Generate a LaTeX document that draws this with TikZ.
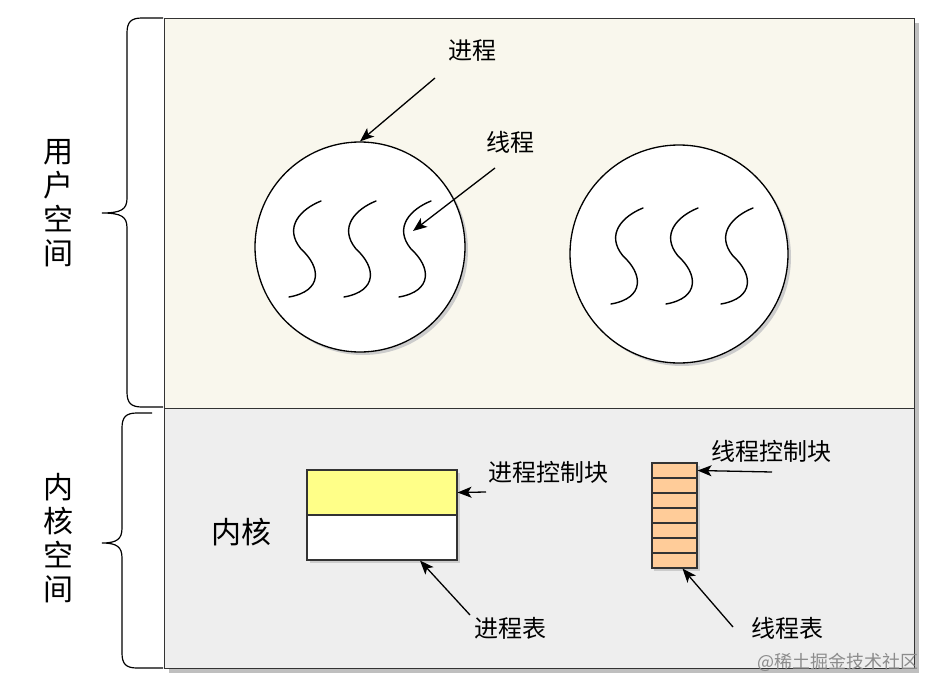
\documentclass[tikz,border=0pt]{standalone}
\usepackage{fontspec}
\setmainfont{Noto Sans CJK SC}
\usetikzlibrary{arrows.meta, shadows, calc, positioning}
\definecolor{userbg}{RGB}{249,247,237}
\definecolor{kernbg}{RGB}{238,238,238}
\definecolor{pcbyellow}{RGB}{255,255,136}
\definecolor{tcbpeach}{RGB}{255,204,153}
\definecolor{edge}{RGB}{51,51,51}

\begin{document}
\begin{tikzpicture}[x=1pt, y=-1pt,
  panel/.style={draw=edge, line width=1.2pt, minimum width=750pt, anchor=north west, inner sep=0pt,
    drop shadow={shadow xshift=4pt, shadow yshift=-4pt, fill=black!25, opacity=1}},
  ball/.style={circle, draw=black, line width=1.3pt, fill=white, minimum size=#1, inner sep=0pt,
    drop shadow={shadow xshift=3pt, shadow yshift=-3pt, fill=black!20, opacity=1}},
  thread/.style={line width=1.4pt, line cap=round},
  cell/.style={draw=edge, line width=1.1pt, inner sep=0pt},
  lbl/.style={font=\fontsize{24}{28}\selectfont, inner sep=0pt},
  sidelbl/.style={font=\fontsize{30}{34}\selectfont, align=center, inner sep=0pt},
  pointer/.style={line width=1.3pt, -{Stealth[length=14pt, width=11pt, inset=3.5pt]}}]
\useasboundingbox (0,0) rectangle (937,693);

% panels
\node[panel, fill=userbg, minimum height=390pt] (user) at (164,18) {};
\node[panel, fill=kernbg, minimum height=260pt] (kern) at (164,408) {};

% braces
\draw[line width=1.2pt] (163,18) -- (142,18) .. controls (131,18) and (127,22) .. (127,33)
  -- (127,198) .. controls (127,209) and (122,213) .. (102,213)
  .. controls (122,213) and (127,217) .. (127,228) -- (127,392)
  .. controls (127,403) and (131,407) .. (142,407) -- (163,407);
\draw[line width=1.2pt] (152,413) -- (137,413) .. controls (126,413) and (122,417) .. (122,428)
  -- (122,528) .. controls (122,539) and (117,543) .. (102,543)
  .. controls (117,543) and (122,547) .. (122,558) -- (122,653)
  .. controls (122,664) and (126,668) .. (137,668) -- (163,668);
\node[sidelbl] (userlbl) at (58,203) {用\\户\\空\\间};
\node[sidelbl] (kernlbl) at (58,538) {内\\核\\空\\间};

% processes
\node[ball=210pt] (p1) at (360,247) {};
\node[ball=218pt] (p2) at (679,254) {};
\foreach \x/\y in {321/201, 376/201, 431/201, 643/208, 698/208, 753/208}
  \draw[thread, shift={(\x,\y)}] (0,0) .. controls (-20,8) and (-38,26) .. (-20,48)
    .. controls (0,66) and (2,90) .. (-32,96);

\node[lbl] (proclbl) at (472,51) {进程};
\node[lbl] (thrlbl) at (510,142) {线程};
\coordinate (procfrom) at (435,78);
\coordinate (thrfrom) at (495,168);
\coordinate (thrto) at (413,231);
\draw[pointer] (procfrom) -- (p1.north);
\draw[pointer] (thrfrom) -- (thrto);

% kernel
\node[lbl, font=\fontsize{30}{34}\selectfont] (kernname) at (241,532) {内核};
\node[cell, fill=pcbyellow, minimum width=150pt, minimum height=45pt,
  drop shadow={shadow xshift=3pt, shadow yshift=-3pt, fill=black!20, opacity=1}] (pcb) at (382,492.5) {};
\node[cell, fill=white, minimum width=150pt, minimum height=45pt,
  drop shadow={shadow xshift=3pt, shadow yshift=-3pt, fill=black!20, opacity=1}] (ptab) at (382,537.5) {};
\node[cell, fill=pcbyellow, minimum width=150pt, minimum height=45pt] at (pcb) {};
\fill[black!20] (654,466) rectangle (700,571);
\foreach \i in {0,...,6}
  \node[cell, fill=tcbpeach, minimum width=45pt, minimum height=15pt] (t\i) at (674.5,470.5+15*\i) {};

\node[lbl] (pcblbl) at (548,472) {进程控制块};
\node[lbl] (ptablbl) at (510,628) {进程表};
\node[lbl] (tcblbl) at (771,451) {线程控制块};
\node[lbl] (ttablbl) at (787,628) {线程表};
\coordinate (pcbfrom) at (486,492);
\coordinate (ptabfrom) at (470,615);
\coordinate (tcbfrom) at (772,472);
\coordinate (ttabfrom) at (733,627);
\draw[pointer] (pcbfrom) -- (pcb.east);
\draw[pointer] (ptabfrom) -- ([xshift=38pt]ptab.south);
\draw[pointer] (tcbfrom) -- (t0.east);
\draw[pointer] (ttabfrom) -- ([xshift=8pt]t6.south);

\node[lbl, font=\fontsize{18}{20}\selectfont, text=black!45] (mark) at (838,662) {@稀土掘金技术社区};
\end{tikzpicture}
\end{document}
